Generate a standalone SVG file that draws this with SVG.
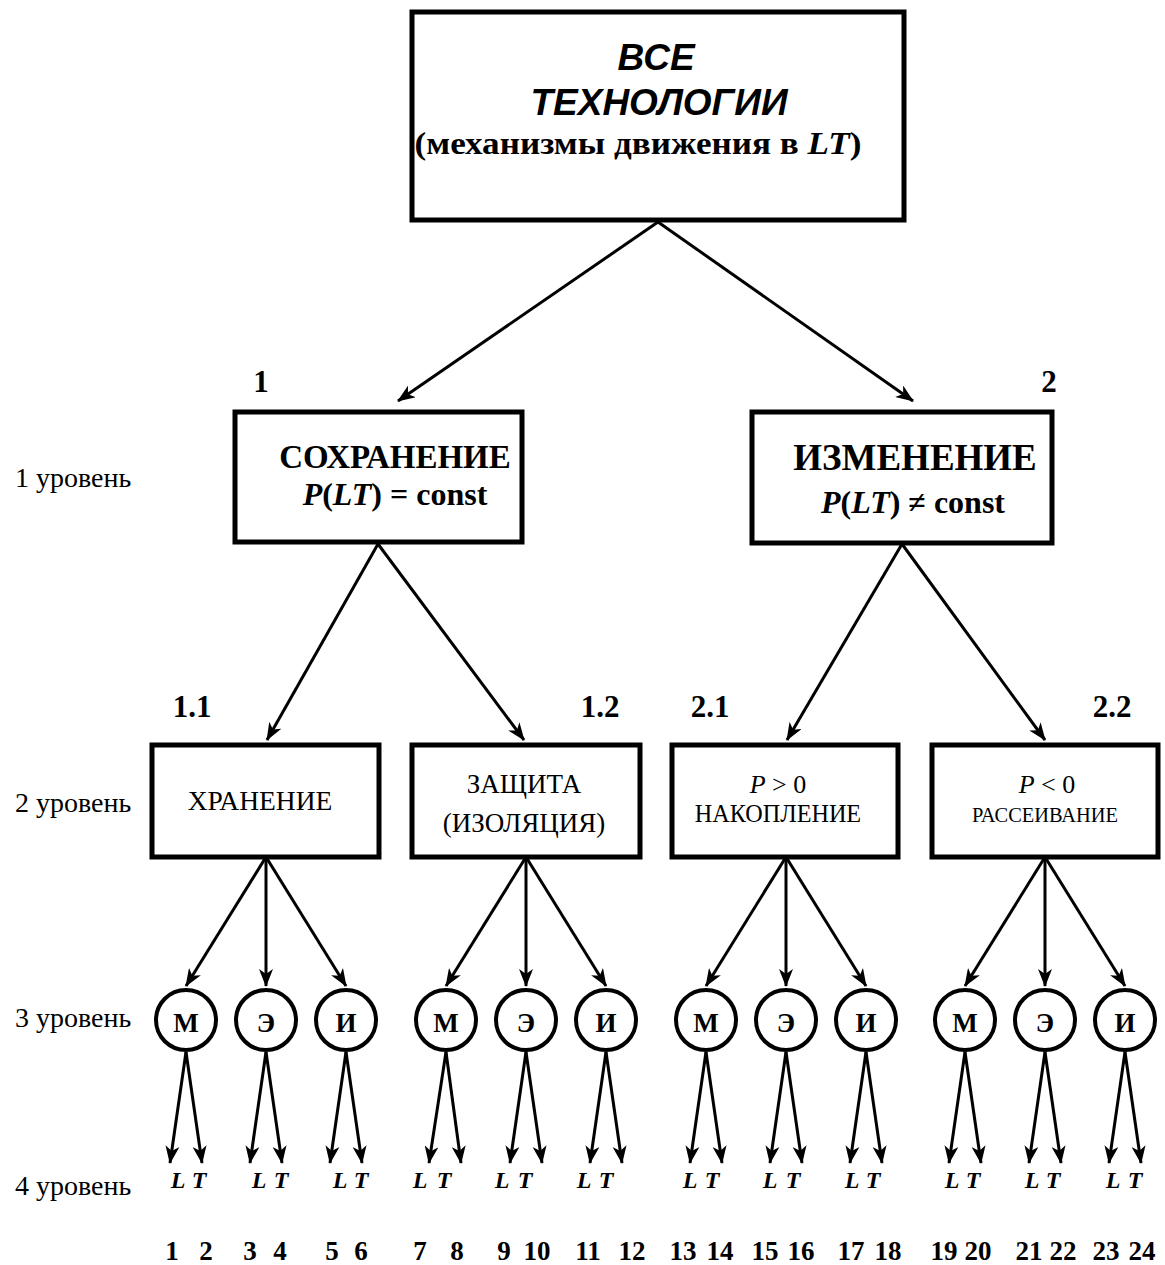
<svg xmlns="http://www.w3.org/2000/svg" width="1165" height="1265" viewBox="0 0 1165 1265">
<style>
.box{fill:#fff;stroke:#000;stroke-width:5}
.circ{fill:#fff;stroke:#000;stroke-width:4}
.ln{stroke:#000;stroke-width:3;fill:none;marker-end:url(#ah)}
.serif{font-family:"Liberation Serif","Times New Roman",serif;fill:#000}
.sans{font-family:"Liberation Sans",Arial,sans-serif;fill:#000}
.b{font-weight:bold}
.i{font-style:italic}
.m{text-anchor:middle}
.lvl{font-size:28px}
.num{font-size:31px;font-weight:bold}
.lt{font-size:24px;font-weight:bold;font-style:italic}
.bn{font-size:27px;font-weight:bold}
.cl{font-size:27px;font-weight:bold}
</style>
<defs>
<marker id="ah" markerUnits="userSpaceOnUse" viewBox="0 0 18 14" markerWidth="18" markerHeight="14" refX="17" refY="7" orient="auto">
<path d="M0,0 L18,7 L0,14 L5,7 Z" fill="#000"/>
</marker>
</defs>
<rect width="1165" height="1265" fill="#fff"/>

<g id="connectors">
<line class="ln" x1="658" y1="222" x2="398" y2="401"/>
<line class="ln" x1="658" y1="222" x2="913" y2="401"/>
<line class="ln" x1="378" y1="544" x2="267" y2="740"/>
<line class="ln" x1="378" y1="544" x2="524" y2="740"/>
<line class="ln" x1="902" y1="544" x2="787" y2="740"/>
<line class="ln" x1="902" y1="544" x2="1045" y2="740"/>
<line class="ln" x1="266" y1="857" x2="186" y2="986"/>
<line class="ln" x1="266" y1="857" x2="266" y2="986"/>
<line class="ln" x1="266" y1="857" x2="346" y2="986"/>
<line class="ln" x1="526" y1="857" x2="446" y2="986"/>
<line class="ln" x1="526" y1="857" x2="526" y2="986"/>
<line class="ln" x1="526" y1="857" x2="606" y2="986"/>
<line class="ln" x1="786" y1="857" x2="706" y2="986"/>
<line class="ln" x1="786" y1="857" x2="786" y2="986"/>
<line class="ln" x1="786" y1="857" x2="866" y2="986"/>
<line class="ln" x1="1045" y1="857" x2="965" y2="986"/>
<line class="ln" x1="1045" y1="857" x2="1045" y2="986"/>
<line class="ln" x1="1045" y1="857" x2="1125" y2="986"/>
<line class="ln" x1="186" y1="1052" x2="170" y2="1163"/>
<line class="ln" x1="186" y1="1052" x2="202" y2="1163"/>
<line class="ln" x1="266" y1="1052" x2="250" y2="1163"/>
<line class="ln" x1="266" y1="1052" x2="282" y2="1163"/>
<line class="ln" x1="346" y1="1052" x2="330" y2="1163"/>
<line class="ln" x1="346" y1="1052" x2="362" y2="1163"/>
<line class="ln" x1="446" y1="1052" x2="429" y2="1163"/>
<line class="ln" x1="446" y1="1052" x2="461" y2="1163"/>
<line class="ln" x1="526" y1="1052" x2="510" y2="1163"/>
<line class="ln" x1="526" y1="1052" x2="542" y2="1163"/>
<line class="ln" x1="606" y1="1052" x2="590" y2="1163"/>
<line class="ln" x1="606" y1="1052" x2="622" y2="1163"/>
<line class="ln" x1="706" y1="1052" x2="690" y2="1163"/>
<line class="ln" x1="706" y1="1052" x2="722" y2="1163"/>
<line class="ln" x1="786" y1="1052" x2="770" y2="1163"/>
<line class="ln" x1="786" y1="1052" x2="802" y2="1163"/>
<line class="ln" x1="866" y1="1052" x2="850" y2="1163"/>
<line class="ln" x1="866" y1="1052" x2="882" y2="1163"/>
<line class="ln" x1="965" y1="1052" x2="949" y2="1163"/>
<line class="ln" x1="965" y1="1052" x2="981" y2="1163"/>
<line class="ln" x1="1045" y1="1052" x2="1029" y2="1163"/>
<line class="ln" x1="1045" y1="1052" x2="1061" y2="1163"/>
<line class="ln" x1="1125" y1="1052" x2="1109" y2="1163"/>
<line class="ln" x1="1125" y1="1052" x2="1141" y2="1163"/>
</g>

<g id="root">
<rect class="box" x="412" y="12" width="492" height="208"/>
<text class="sans b i m" x="656" y="70" font-size="37">ВСЕ</text>
<text class="sans b i m" x="659" y="115" font-size="37">ТЕХНОЛОГИИ</text>
<text class="serif b m" x="638" y="154" font-size="31" textLength="447" lengthAdjust="spacingAndGlyphs">(механизмы движения в <tspan class="i">LT</tspan>)</text>
</g>

<g id="n1">
<text class="serif num m" x="261" y="392">1</text>
<rect class="box" x="235" y="412" width="287" height="130"/>
<text class="serif b m" x="395" y="468" font-size="33">СОХРАНЕНИЕ</text>
<text class="serif b m" x="395" y="505" font-size="32"><tspan class="i">P</tspan>(<tspan class="i">LT</tspan>) = const</text>
</g>

<g id="n2">
<text class="serif num m" x="1049" y="392">2</text>
<rect class="box" x="752" y="412" width="300" height="131"/>
<text class="serif b m" x="915" y="470" font-size="37">ИЗМЕНЕНИЕ</text>
<text class="serif b m" x="913" y="513" font-size="32"><tspan class="i">P</tspan>(<tspan class="i">LT</tspan>) ≠ const</text>
</g>

<g id="n1_1">
<text class="serif num m" x="192" y="717">1.1</text>
<rect class="box" x="152" y="745" width="227" height="112"/>
<text class="serif m" x="260" y="810" font-size="27.5">ХРАНЕНИЕ</text>
</g>

<g id="n1_2">
<text class="serif num m" x="600" y="717">1.2</text>
<rect class="box" x="412" y="745" width="228" height="112"/>
<text class="serif m" x="524" y="793" font-size="27">ЗАЩИТА</text>
<text class="serif m" x="524" y="832" font-size="27">(ИЗОЛЯЦИЯ)</text>
</g>

<g id="n2_1">
<text class="serif num m" x="710" y="717">2.1</text>
<rect class="box" x="672" y="745" width="226" height="112"/>
<text class="serif m" x="778" y="793" font-size="26"><tspan class="i">P</tspan> &gt; 0</text>
<text class="serif m" x="778" y="822" font-size="24.2">НАКОПЛЕНИЕ</text>
</g>

<g id="n2_2">
<text class="serif num m" x="1112" y="717">2.2</text>
<rect class="box" x="932" y="745" width="226" height="112"/>
<text class="serif m" x="1047" y="793" font-size="26"><tspan class="i">P</tspan> &lt; 0</text>
<text class="serif m" x="1045" y="822" font-size="20.4">РАССЕИВАНИЕ</text>
</g>

<g id="circles">
<g id="c1"><circle class="circ" cx="186" cy="1020" r="30"/><text class="serif cl m" x="186" y="1032">М</text></g>
<g id="c2"><circle class="circ" cx="266" cy="1020" r="30"/><text class="serif cl m" x="266" y="1032">Э</text></g>
<g id="c3"><circle class="circ" cx="346" cy="1020" r="30"/><text class="serif cl m" x="346" y="1032">И</text></g>
<g id="c4"><circle class="circ" cx="446" cy="1020" r="30"/><text class="serif cl m" x="446" y="1032">М</text></g>
<g id="c5"><circle class="circ" cx="526" cy="1020" r="30"/><text class="serif cl m" x="526" y="1032">Э</text></g>
<g id="c6"><circle class="circ" cx="606" cy="1020" r="30"/><text class="serif cl m" x="606" y="1032">И</text></g>
<g id="c7"><circle class="circ" cx="706" cy="1020" r="30"/><text class="serif cl m" x="706" y="1032">М</text></g>
<g id="c8"><circle class="circ" cx="786" cy="1020" r="30"/><text class="serif cl m" x="786" y="1032">Э</text></g>
<g id="c9"><circle class="circ" cx="866" cy="1020" r="30"/><text class="serif cl m" x="866" y="1032">И</text></g>
<g id="c10"><circle class="circ" cx="965" cy="1020" r="30"/><text class="serif cl m" x="965" y="1032">М</text></g>
<g id="c11"><circle class="circ" cx="1045" cy="1020" r="30"/><text class="serif cl m" x="1045" y="1032">Э</text></g>
<g id="c12"><circle class="circ" cx="1125" cy="1020" r="30"/><text class="serif cl m" x="1125" y="1032">И</text></g>
</g>

<g id="lt-labels">
<text class="serif lt m" x="178" y="1188">L</text><text class="serif lt m" x="199" y="1188">T</text>
<text class="serif lt m" x="259" y="1188">L</text><text class="serif lt m" x="281" y="1188">T</text>
<text class="serif lt m" x="340" y="1188">L</text><text class="serif lt m" x="361" y="1188">T</text>
<text class="serif lt m" x="420" y="1188">L</text><text class="serif lt m" x="444" y="1188">T</text>
<text class="serif lt m" x="502" y="1188">L</text><text class="serif lt m" x="525" y="1188">T</text>
<text class="serif lt m" x="584" y="1188">L</text><text class="serif lt m" x="606" y="1188">T</text>
<text class="serif lt m" x="690" y="1188">L</text><text class="serif lt m" x="712" y="1188">T</text>
<text class="serif lt m" x="770" y="1188">L</text><text class="serif lt m" x="793" y="1188">T</text>
<text class="serif lt m" x="852" y="1188">L</text><text class="serif lt m" x="873" y="1188">T</text>
<text class="serif lt m" x="952" y="1188">L</text><text class="serif lt m" x="973" y="1188">T</text>
<text class="serif lt m" x="1032" y="1188">L</text><text class="serif lt m" x="1053" y="1188">T</text>
<text class="serif lt m" x="1113" y="1188">L</text><text class="serif lt m" x="1135" y="1188">T</text>
</g>

<g id="numbers">
<text class="serif bn m" x="172" y="1260">1</text>
<text class="serif bn m" x="206" y="1260">2</text>
<text class="serif bn m" x="250" y="1260">3</text>
<text class="serif bn m" x="280" y="1260">4</text>
<text class="serif bn m" x="332" y="1260">5</text>
<text class="serif bn m" x="361" y="1260">6</text>
<text class="serif bn m" x="420" y="1260">7</text>
<text class="serif bn m" x="457" y="1260">8</text>
<text class="serif bn m" x="504" y="1260">9</text>
<text class="serif bn m" x="537" y="1260">10</text>
<text class="serif bn m" x="588" y="1260">11</text>
<text class="serif bn m" x="632" y="1260">12</text>
<text class="serif bn m" x="683" y="1260">13</text>
<text class="serif bn m" x="720" y="1260">14</text>
<text class="serif bn m" x="765" y="1260">15</text>
<text class="serif bn m" x="801" y="1260">16</text>
<text class="serif bn m" x="851" y="1260">17</text>
<text class="serif bn m" x="888" y="1260">18</text>
<text class="serif bn m" x="944" y="1260">19</text>
<text class="serif bn m" x="978" y="1260">20</text>
<text class="serif bn m" x="1029" y="1260">21</text>
<text class="serif bn m" x="1063" y="1260">22</text>
<text class="serif bn m" x="1106" y="1260">23</text>
<text class="serif bn m" x="1142" y="1260">24</text>
</g>

<g id="levels">
<text class="serif lvl" x="15" y="487">1 уровень</text>
<text class="serif lvl" x="15" y="812">2 уровень</text>
<text class="serif lvl" x="15" y="1027">3 уровень</text>
<text class="serif lvl" x="15" y="1195">4 уровень</text>
</g>
</svg>
